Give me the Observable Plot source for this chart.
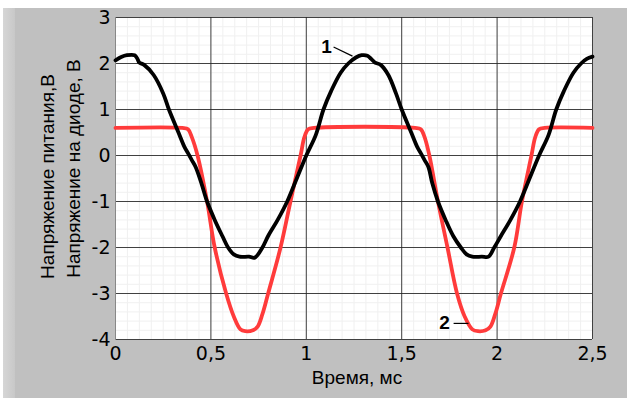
<!DOCTYPE html>
<html>
<head>
<meta charset="utf-8">
<script src="https://cdn.jsdelivr.net/npm/d3@7"></script>
<script src="https://cdn.jsdelivr.net/npm/@observablehq/plot@0.6"></script>
<style>
  html, body { margin: 0; padding: 0; background: #fff; }
  #wrap { position: relative; width: 631px; height: 398px; overflow: hidden; }
  #bg { position: absolute; left: 3px; top: 8px; width: 624px; height: 390px; background: #c0c0c0; }
  #strip { position: absolute; left: 3px; top: 8px; width: 12px; height: 390px; background: linear-gradient(to right, #d6d6d6, #c8c8c8); }
  #chart { position: absolute; left: 0; top: 0; }
</style>
</head>
<body>
<div id="wrap"><div id="bg"></div><div id="strip"></div><div id="chart"></div></div>
<script>
// Curve 1: supply voltage (black)
const t1 = [0,0.03,0.06,0.1,0.115,0.125,0.15,0.2,0.25,0.28,0.33,0.36,0.38,0.4,0.42,0.45,0.48,0.52,0.56,0.59,0.62,0.65,0.7,0.73,0.77,0.8,0.85,0.9,0.95,1.0,1.05,1.09,1.13,1.18,1.22,1.26,1.29,1.32,1.34,1.36,1.39,1.43,1.47,1.5,1.55,1.58,1.6,1.62,1.64,1.66,1.69,1.73,1.77,1.81,1.84,1.87,1.92,1.955,1.985,2.02,2.07,2.12,2.17,2.22,2.27,2.31,2.35,2.4,2.44,2.47,2.5];
const v1 = [2.07,2.14,2.18,2.18,2.1,2.02,1.97,1.75,1.35,1.0,0.5,0.2,0.05,-0.1,-0.25,-0.6,-1.0,-1.4,-1.75,-2.0,-2.15,-2.2,-2.2,-2.22,-2.0,-1.75,-1.4,-1.0,-0.5,0.0,0.45,1.0,1.4,1.8,2.0,2.13,2.18,2.17,2.1,2.02,1.97,1.75,1.35,1.0,0.5,0.2,0.05,-0.1,-0.25,-0.6,-1.0,-1.4,-1.75,-2.0,-2.15,-2.2,-2.2,-2.2,-2.0,-1.75,-1.4,-1.0,-0.5,0.0,0.45,1.0,1.4,1.8,2.0,2.1,2.15];
// Curve 2: diode voltage (red)
const t2 = [0,0.35,0.38,0.40,0.43,0.48,0.52,0.58,0.62,0.655,0.68,0.72,0.745,0.77,0.80,0.865,0.917,0.97,0.99,1.01,1.04,1.57,1.60,1.62,1.645,1.69,1.74,1.79,1.83,1.87,1.9,1.94,1.965,1.99,2.02,2.09,2.13,2.18,2.2,2.22,2.25,2.5];
const v2 = [0.6,0.6,0.57,0.4,0.0,-1.0,-2.0,-3.0,-3.5,-3.78,-3.82,-3.8,-3.72,-3.45,-3.0,-2.0,-1.0,0.0,0.4,0.57,0.6,0.6,0.57,0.4,0.0,-1.0,-2.0,-3.0,-3.5,-3.78,-3.82,-3.8,-3.72,-3.45,-3.0,-2.0,-1.0,0.0,0.4,0.57,0.6,0.6];
const xTicks = [0,0.5,1,1.5,2,2.5];
const yTicks = [-4,-3,-2,-1,0,1,2,3];
const xLabel = "Время, мс";
const yLabel1 = "Напряжение питания,В";
const yLabel2 = "Напряжение на диоде, В";
const labels = [{t: 1.106, v: 2.35, s: "1"}, {t: 1.724, v: -3.63, s: "2"}];
const leaders = [{t1: 1.143, v1: 2.36, t2: 1.242, v2: 2.16}, {t1: 1.772, v1: -3.65, t2: 1.85, v2: -3.65}];

const s1 = t1.map((t, i) => ({t, v: v1[i]}));
const s2 = t2.map((t, i) => ({t, v: v2[i]}));
const xMinor = d3.range(0, 2.5001, 0.0625);
const yMinor = d3.range(-4, 3.0001, 0.2);
const fmt = d => String(d).replace(".", ",");
const sans = "Liberation Sans, Arial, sans-serif";

const chart = Plot.plot({
  width: 631, height: 398,
  marginLeft: 115, marginRight: 39, marginTop: 17, marginBottom: 59,
  style: {fontFamily: "DejaVu Sans, Verdana, sans-serif", fontSize: "19px", background: "transparent", color: "#000"},
  x: {domain: [0, 2.5], label: null},
  y: {domain: [-4, 3], label: null},
  marks: [
    Plot.frame({fill: "#fff", stroke: null}),
    Plot.gridX(xMinor, {stroke: "#f0f0f0", strokeOpacity: 1}),
    Plot.gridY(yMinor, {stroke: "#f0f0f0", strokeOpacity: 1}),
    Plot.gridX(xTicks, {stroke: "#222", strokeOpacity: 0.85}),
    Plot.gridY(yTicks, {stroke: "#222", strokeOpacity: 0.85}),
    Plot.frame({stroke: "#888", strokeWidth: 1, anchor: "left"}),
    Plot.line(s2, {x: "t", y: "v", stroke: "#ff3b3b", strokeWidth: 3.8, curve: "catmull-rom"}),
    Plot.line(s1, {x: "t", y: "v", stroke: "#000", strokeWidth: 3.8, curve: "catmull-rom"}),
    Plot.link(leaders, {x1: "t1", y1: "v1", x2: "t2", y2: "v2", stroke: "#000", strokeWidth: 1.2}),
    Plot.text(labels, {x: "t", y: "v", text: "s", fontWeight: "bold", fontSize: 19, fontFamily: sans}),
    Plot.axisX(xTicks, {tickSize: 0, tickPadding: 7, tickFormat: fmt, label: null, fontSize: 19}),
    Plot.axisY(yTicks, {tickSize: 0, tickPadding: 5, tickFormat: fmt, label: null, fontSize: 19}),
    Plot.text([xLabel], {frameAnchor: "bottom", dx: 3, dy: 44, fontSize: 19, fontFamily: sans}),
    Plot.text([yLabel1], {frameAnchor: "left", textAnchor: "middle", dx: -68, dy: -2, rotate: -90, fontSize: 19, fontFamily: sans}),
    Plot.text([yLabel2], {frameAnchor: "left", textAnchor: "middle", dx: -42, dy: -10, rotate: -90, fontSize: 19, fontFamily: sans})
  ]
});
document.getElementById("chart").appendChild(chart);
</script>
</body>
</html>
